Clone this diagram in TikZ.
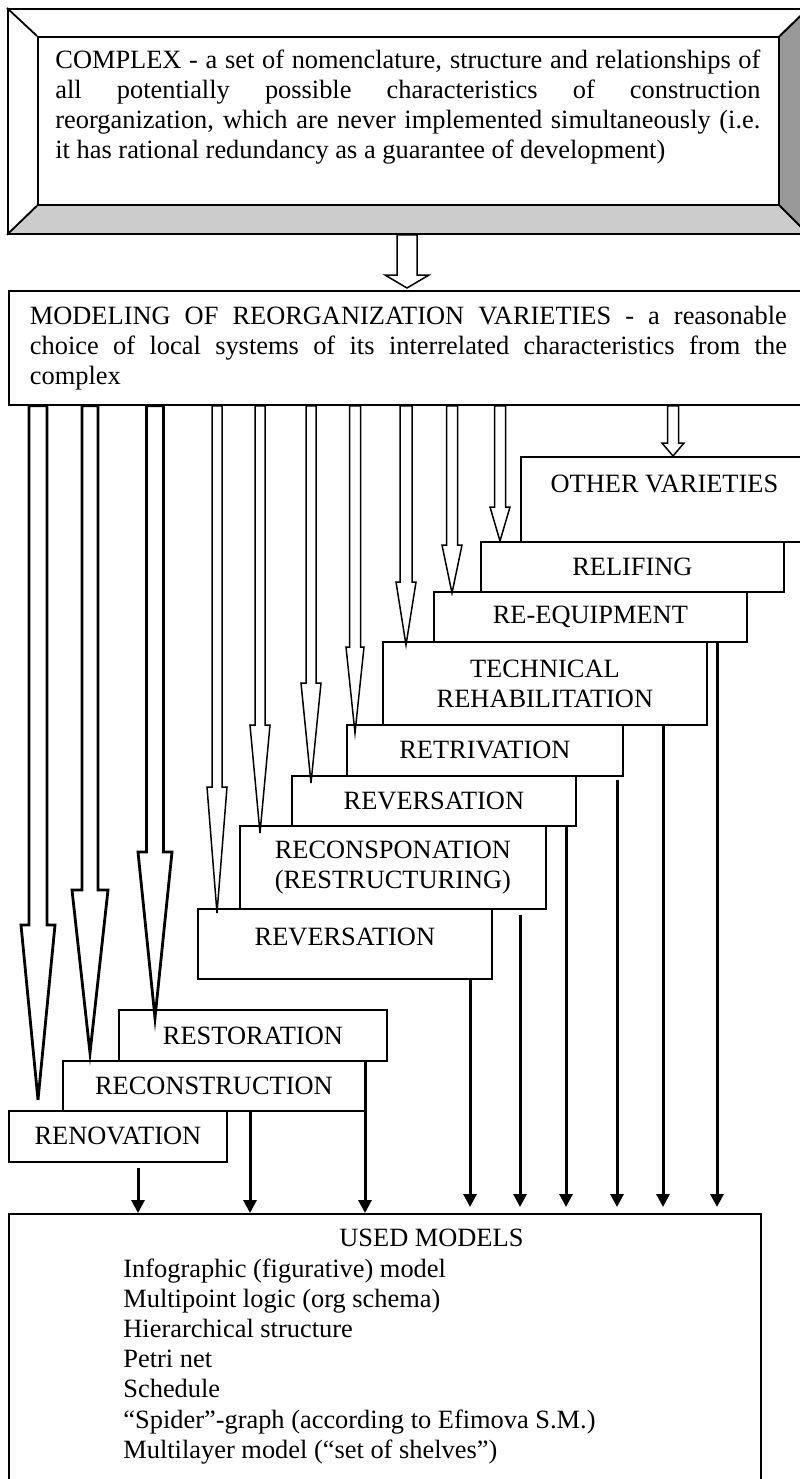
\documentclass[tikz,border=0pt]{standalone}
\usepackage{fontspec}
\setmainfont{Liberation Serif}
\usetikzlibrary{calc,arrows.meta}
\newcommand\hollowarr[8]{%
  \draw[#1] ($(#2,0 |- #3.south)+(-#7,0)$) -- (#2-#7,#4) -- (#2-#8,#4)
     -- ($(#2,0 |- #5.north)+(0,#6)$) -- (#2+#8,#4) -- (#2+#7,#4)
     -- ($(#2,0 |- #3.south)+(#7,0)$) -- cycle;}
\begin{document}
\begin{tikzpicture}[x=0.5pt,y=-0.5pt,
  myfont/.style={font=\fontsize{13.2pt}{15pt}\selectfont},
  box/.style={draw,line width=0.9pt,fill=white,inner sep=0pt,align=center,myfont,anchor=north west},
  frm/.style={draw,line width=0.9pt,inner sep=0pt,anchor=north west},
  solidarr/.style={line width=1.5pt,-{Triangle[length=6.5pt,width=6.5pt]}},
  thickh/.style={line width=1.4pt,line join=miter},
  thinh/.style={line width=0.75pt,line join=miter}]
\useasboundingbox (0,0) rectangle (799,1479);
% bevelled top frame
\fill[white] (7,8) rectangle (807,233);
\fill[black!20] (7,233) -- (807,233) -- (778,204) -- (37,204) -- cycle;
\fill[black!40] (807,8) -- (807,233) -- (778,204) -- (778,36) -- cycle;
\node[frm,minimum width=400pt,minimum height=112.5pt] (frame) at (7,8) {};
\node[frm,minimum width=370.5pt,minimum height=84pt] (complex) at (37,36) {};
\draw[line width=0.9pt] (frame.north west) -- (complex.north west)
  (frame.north east) -- (complex.north east)
  (frame.south west) -- (complex.south west)
  (frame.south east) -- (complex.south east);
\node[myfont,text width=352.5pt,align=justify,inner sep=0pt,anchor=north west] (complextxt) at (55,50)
 {\tolerance=10000\hyphenpenalty=10000 COMPLEX - a set of nomenclature, structure and relationships of\linebreak
  all potentially possible characteristics of construction\linebreak
  reorganization, which are never implemented simultaneously (i.e.\linebreak
  it has rational redundancy as a guarantee of development)};
% modeling box
\node[box,minimum width=399.5pt,minimum height=57pt,text width=378.5pt,align=justify] (model) at (8,290)
 {\tolerance=10000\hyphenpenalty=10000 MODELING OF REORGANIZATION VARIETIES - a reasonable\linebreak
  choice of local systems of its interrelated characteristics from the\linebreak complex};
\hollowarr{thinh}{407}{frame}{275}{model}{-2}{10}{22}
% variety boxes
\node[box,minimum width=143.5pt,minimum height=42.5pt,text depth=16pt] (other) at (520,456) {OTHER VARIETIES};
\node[box,minimum width=151.5pt,minimum height=25pt] (relif) at (480,541) {RELIFING};
\node[box,minimum width=156.5pt,minimum height=25pt] (reeq) at (433,591) {RE-EQUIPMENT};
\node[box,minimum width=162pt,minimum height=41.5pt] (tech) at (382,641) {TECHNICAL\\REHABILITATION};
\node[box,minimum width=138pt,minimum height=25.5pt] (retr) at (346,724) {RETRIVATION};
\node[box,minimum width=142pt,minimum height=25pt] (rev1) at (291,775) {REVERSATION};
\node[box,minimum width=153pt,minimum height=41.5pt] (recon) at (239,825) {RECONSPONATION\\(RESTRUCTURING)};
\node[box,minimum width=147pt,minimum height=35pt,text depth=7.5pt] (rev2) at (197,908) {REVERSATION};
\node[box,minimum width=134pt,minimum height=25.5pt] (rest) at (118,1009) {RESTORATION};
\node[box,minimum width=151pt,minimum height=25pt] (recons) at (62,1060) {RECONSTRUCTION};
\node[box,minimum width=109pt,minimum height=25.5pt] (renov) at (8,1110) {RENOVATION};
\node[box,minimum width=376pt,minimum height=143.5pt] (used) at (8,1213) {};
\node[font=\fontsize{13.2pt}{15.1pt}\selectfont,align=left,inner sep=0pt,anchor=north west] (usedtxt) at (123,1229)
 {\hspace*{108pt}USED MODELS\\
  Infographic (figurative) model\\
  Multipoint logic (org schema)\\
  Hierarchical structure\\
  Petri net\\
  Schedule\\
  “Spider”-graph (according to Efimova S.M.)\\
  Multilayer model (“set of shelves”)};
% hollow arrows from the modeling box
\hollowarr{thickh}{38}{model}{925}{renov}{-10}{9}{17}
\hollowarr{thickh}{90}{model}{890}{recons}{-7}{8}{18}
\hollowarr{thickh}{155}{model}{852}{rest}{9}{8.5}{17}
\hollowarr{thinh}{217}{model}{787}{rev2}{5}{5}{10}
\hollowarr{thinh}{260}{model}{725}{recon}{8}{5}{10}
\hollowarr{thinh}{311}{model}{683}{rev1}{8}{5}{10}
\hollowarr{thinh}{355}{model}{647}{retr}{9}{5.5}{9}
\hollowarr{thinh}{406}{model}{582}{tech}{4}{6}{10}
\hollowarr{thinh}{452}{model}{545}{reeq}{2}{5.5}{10}
\hollowarr{thinh}{500}{model}{507}{relif}{0}{5.5}{10}
\hollowarr{thinh}{673}{model}{443}{other}{0}{5.5}{11}
% solid arrows into USED MODELS
\draw[solidarr] ($(138,0 |- renov.south)+(0,5)$) -- (138,0 |- used.north);
\draw[solidarr] (250,0 |- recons.south) -- (250,0 |- used.north);
\draw[solidarr] (365,0 |- rest.south) -- (365,0 |- used.north);
\draw[solidarr] (470,0 |- rev2.south) -- ($(470,0 |- used.north)+(0,-6)$);
\draw[solidarr] ($(520,0 |- recon.south)+(0,5)$) -- ($(520,0 |- used.north)+(0,-6)$);
\draw[solidarr] (566,0 |- rev1.south) -- ($(566,0 |- used.north)+(0,-6)$);
\draw[solidarr] ($(617,0 |- retr.south)+(0,3)$) -- ($(617,0 |- used.north)+(0,-6)$);
\draw[solidarr] (663,0 |- tech.south) -- ($(663,0 |- used.north)+(0,-6)$);
\draw[solidarr] (717,0 |- reeq.south) -- ($(717,0 |- used.north)+(0,-6)$);
\end{tikzpicture}
\end{document}
